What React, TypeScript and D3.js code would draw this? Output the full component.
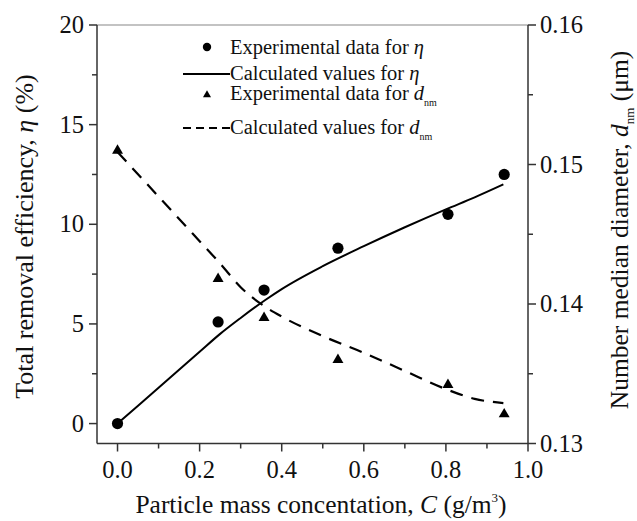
import React from "react";
import * as d3 from "d3";

// concentration C (g/m3)
const expC = [0, 0.245, 0.357, 0.537, 0.805, 0.942];
// measured removal efficiency (%)
const expEta = [0, 5.1, 6.7, 8.8, 10.5, 12.5];
// measured number median diameter (um)
const expD = [0.151, 0.1418, 0.139, 0.136, 0.1342, 0.1321];

// calculated curves
const calcC = [0, 0.1, 0.2, 0.25, 0.3, 0.36, 0.4, 0.5, 0.6, 0.7, 0.8, 0.87, 0.94];
const calcEta = [0, 1.8, 3.6, 4.5, 5.3, 6.2, 6.75, 7.9, 8.9, 9.85, 10.75, 11.35, 12.0];
const calcD = [0.1509, 0.1477, 0.1445, 0.1429, 0.1412, 0.1398, 0.1391, 0.1377, 0.1365, 0.1352, 0.1339, 0.1332, 0.1329];

const xTicks = [0, 0.2, 0.4, 0.6, 0.8, 1.0];
const xMinor = [0.1, 0.3, 0.5, 0.7, 0.9];
const leftTicks = [0, 5, 10, 15, 20];
const leftMinor = [2.5, 7.5, 12.5, 17.5];
const rightTicks = [0.13, 0.14, 0.15, 0.16];
const rightMinor = [0.135, 0.145, 0.155];

const W = 637;
const H = 521;
const left = 97;
const right = 528;
const top = 25;
const bottom = 443.5;
const font = "'Liberation Serif', 'Times New Roman', serif";
const axisColor = "#333";

export default function App() {
  const x = d3.scaleLinear().domain([-0.05, 1.0]).range([left, right]);
  const yL = d3.scaleLinear().domain([-1, 20]).range([bottom, top]);
  const yR = d3.scaleLinear().domain([0.13, 0.16]).range([bottom, top]);

  const etaLine = d3
    .line<number>()
    .x((d, i) => x(calcC[i]))
    .y((d) => yL(d))
    .curve(d3.curveMonotoneX);
  const dLine = d3
    .line<number>()
    .x((d, i) => x(calcC[i]))
    .y((d) => yR(d))
    .curve(d3.curveMonotoneX);

  const tri = d3.symbol().type(d3.symbolTriangle).size(52)();
  const legendTri = d3.symbol().type(d3.symbolTriangle).size(28)();

  return (
    <svg
      width={W}
      height={H}
      style={{ position: "absolute", left: 0, top: 0, background: "#fff", fontFamily: font }}
      fontFamily={font}
    >
      {/* frame */}
      <line x1={left} x2={right} y1={top} y2={top} stroke="#888" strokeWidth={1.2} />
      <line x1={left} x2={left} y1={top} y2={bottom} stroke={axisColor} strokeWidth={1.5} />
      <line x1={right} x2={right} y1={top} y2={bottom} stroke={axisColor} strokeWidth={1.5} />
      <line x1={left} x2={right} y1={bottom} y2={bottom} stroke={axisColor} strokeWidth={1.5} />

      {/* x axis */}
      {xTicks.map((t) => (
        <g key={"x" + t}>
          <line x1={x(t)} x2={x(t)} y1={bottom} y2={bottom + 8} stroke={axisColor} strokeWidth={1.5} />
          <text x={x(t)} y={478} fontSize={24.5} textAnchor="middle" fill="#111">
            {t.toFixed(1)}
          </text>
        </g>
      ))}
      {xMinor.map((t) => (
        <line key={"xm" + t} x1={x(t)} x2={x(t)} y1={bottom} y2={bottom + 5} stroke={axisColor} strokeWidth={1.5} />
      ))}

      {/* left axis */}
      {leftTicks.map((t) => (
        <g key={"l" + t}>
          <line x1={left - 8} x2={left} y1={yL(t)} y2={yL(t)} stroke={axisColor} strokeWidth={1.5} />
          <text x={84} y={yL(t) + 8} fontSize={24.5} textAnchor="end" fill="#111">
            {t}
          </text>
        </g>
      ))}
      {leftMinor.map((t) => (
        <line key={"lm" + t} x1={left - 5} x2={left} y1={yL(t)} y2={yL(t)} stroke={axisColor} strokeWidth={1.5} />
      ))}

      {/* right axis */}
      {rightTicks.map((t) => (
        <g key={"r" + t}>
          <line x1={right} x2={right + 8} y1={yR(t)} y2={yR(t)} stroke={axisColor} strokeWidth={1.5} />
          <text x={540} y={yR(t) + 8} fontSize={24.5} textAnchor="start" fill="#111">
            {t.toFixed(2)}
          </text>
        </g>
      ))}
      {rightMinor.map((t) => (
        <line key={"rm" + t} x1={right} x2={right + 5} y1={yR(t)} y2={yR(t)} stroke={axisColor} strokeWidth={1.5} />
      ))}

      {/* axis titles */}
      <text x={321} y={513} fontSize={25.5} textAnchor="middle" fill="#111">
        Particle mass concentation, <tspan fontStyle="italic">C</tspan> (g/m
        <tspan fontSize={13} dy={-11}>3</tspan>
        <tspan dy={11}>)</tspan>
      </text>
      <text
        transform={`translate(33,236.5) rotate(-90)`}
        fontSize={26}
        textAnchor="middle"
        fill="#111"
      >
        Total removal efficiency, <tspan fontStyle="italic">η</tspan> (%)
      </text>
      <text
        transform={`translate(628,230) rotate(-90)`}
        fontSize={25.5}
        textAnchor="middle"
        fill="#111"
      >
        Number median diameter, <tspan fontStyle="italic">d</tspan>
        <tspan fontSize={13} dy={6}>nm</tspan>
        <tspan dy={-6}> (μm)</tspan>
      </text>

      {/* calculated curves */}
      <path d={etaLine(calcEta) || ""} fill="none" stroke="#000" strokeWidth={2} />
      <path d={dLine(calcD) || ""} fill="none" stroke="#000" strokeWidth={2.2} strokeDasharray="13,9" />

      {/* experimental points */}
      {expC.map((c, i) => (
        <circle key={"c" + i} cx={x(c)} cy={yL(expEta[i])} r={5.6} fill="#000" />
      ))}
      {expC.map((c, i) => (
        <path key={"t" + i} d={tri || ""} transform={`translate(${x(c)},${yR(expD[i])})`} fill="#000" />
      ))}

      {/* legend */}
      <g fill="#111" fontSize={20.5}>
        <circle cx={207} cy={47} r={4.2} fill="#000" />
        <text x={230} y={54}>
          Experimental data for <tspan fontStyle="italic">η</tspan>
        </text>
        <line x1={183} x2={230} y1={74} y2={74} stroke="#000" strokeWidth={1.8} />
        <text x={230} y={80}>
          Calculated values for <tspan fontStyle="italic">η</tspan>
        </text>
        <path d={legendTri || ""} transform="translate(207,95)" fill="#000" />
        <text x={230} y={100}>
          Experimental data for <tspan fontStyle="italic">d</tspan>
          <tspan fontSize={10} dy={6}>nm</tspan>
        </text>
        <line x1={183} x2={230} y1={128} y2={128} stroke="#000" strokeWidth={1.8} strokeDasharray="8,5" />
        <text x={230} y={134}>
          Calculated values for <tspan fontStyle="italic">d</tspan>
          <tspan fontSize={10} dy={6}>nm</tspan>
        </text>
      </g>
    </svg>
  );
}
